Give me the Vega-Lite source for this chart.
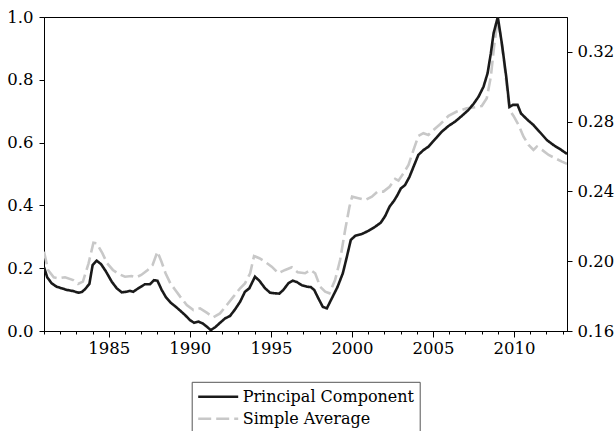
{
  "$schema": "https://vega.github.io/schema/vega-lite/v6.json",
  "width": 523,
  "height": 314,
  "autosize": {"type": "none"},
  "padding": {"left": 44, "top": 17, "right": 49, "bottom": 100},
  "background": "white",
  "config": {
    "font": "DejaVu Serif",
    "view": {"stroke": "black", "strokeWidth": 1},
    "axis": {
      "grid": false,
      "domainColor": "black",
      "domainWidth": 1,
      "tickColor": "black",
      "tickWidth": 1,
      "labelColor": "black",
      "labelFont": "DejaVu Serif",
      "labelFontSize": 16.5,
      "labelOverlap": false,
      "title": null
    },
    "legend": {"labelFont": "DejaVu Serif"}
  },
  "datasets": {
    "pc": [
      {"t": 1981.0, "v": 0.203}, {"t": 1981.2, "v": 0.171}, {"t": 1981.47, "v": 0.152}, {"t": 1981.78, "v": 0.141},
      {"t": 1982.09, "v": 0.136}, {"t": 1982.4, "v": 0.131}, {"t": 1982.81, "v": 0.127}, {"t": 1983.12, "v": 0.122},
      {"t": 1983.33, "v": 0.124}, {"t": 1983.53, "v": 0.133}, {"t": 1983.8, "v": 0.15}, {"t": 1984.0, "v": 0.21},
      {"t": 1984.25, "v": 0.224}, {"t": 1984.52, "v": 0.213}, {"t": 1984.83, "v": 0.189}, {"t": 1985.18, "v": 0.157},
      {"t": 1985.49, "v": 0.136}, {"t": 1985.8, "v": 0.123}, {"t": 1986.1, "v": 0.125}, {"t": 1986.31, "v": 0.128},
      {"t": 1986.51, "v": 0.125}, {"t": 1986.82, "v": 0.136}, {"t": 1987.23, "v": 0.149}, {"t": 1987.54, "v": 0.149},
      {"t": 1987.79, "v": 0.162}, {"t": 1988.0, "v": 0.16}, {"t": 1988.26, "v": 0.131}, {"t": 1988.53, "v": 0.107},
      {"t": 1988.82, "v": 0.09}, {"t": 1989.09, "v": 0.079}, {"t": 1989.4, "v": 0.065}, {"t": 1989.7, "v": 0.051},
      {"t": 1990.0, "v": 0.035}, {"t": 1990.26, "v": 0.026}, {"t": 1990.52, "v": 0.03}, {"t": 1990.8, "v": 0.024},
      {"t": 1991.04, "v": 0.014}, {"t": 1991.29, "v": 0.003}, {"t": 1991.56, "v": 0.012}, {"t": 1991.86, "v": 0.026},
      {"t": 1992.17, "v": 0.04}, {"t": 1992.48, "v": 0.048}, {"t": 1992.79, "v": 0.069}, {"t": 1993.1, "v": 0.093},
      {"t": 1993.4, "v": 0.125}, {"t": 1993.67, "v": 0.136}, {"t": 1993.82, "v": 0.152}, {"t": 1994.02, "v": 0.173},
      {"t": 1994.29, "v": 0.16}, {"t": 1994.64, "v": 0.136}, {"t": 1994.95, "v": 0.122}, {"t": 1995.26, "v": 0.12},
      {"t": 1995.52, "v": 0.119}, {"t": 1995.77, "v": 0.131}, {"t": 1996.08, "v": 0.152}, {"t": 1996.35, "v": 0.16},
      {"t": 1996.6, "v": 0.156}, {"t": 1996.9, "v": 0.146}, {"t": 1997.22, "v": 0.141}, {"t": 1997.46, "v": 0.14},
      {"t": 1997.67, "v": 0.131}, {"t": 1997.93, "v": 0.104}, {"t": 1998.2, "v": 0.077}, {"t": 1998.45, "v": 0.072},
      {"t": 1998.76, "v": 0.104}, {"t": 1999.1, "v": 0.139}, {"t": 1999.44, "v": 0.184}, {"t": 1999.69, "v": 0.237},
      {"t": 1999.93, "v": 0.29}, {"t": 2000.2, "v": 0.303}, {"t": 2000.61, "v": 0.309}, {"t": 2001.02, "v": 0.319},
      {"t": 2001.43, "v": 0.332}, {"t": 2001.78, "v": 0.345}, {"t": 2002.05, "v": 0.366}, {"t": 2002.32, "v": 0.396},
      {"t": 2002.6, "v": 0.415}, {"t": 2002.81, "v": 0.433}, {"t": 2003.02, "v": 0.454}, {"t": 2003.28, "v": 0.465},
      {"t": 2003.55, "v": 0.491}, {"t": 2003.8, "v": 0.523}, {"t": 2004.1, "v": 0.561}, {"t": 2004.41, "v": 0.576},
      {"t": 2004.72, "v": 0.587}, {"t": 2004.99, "v": 0.603}, {"t": 2005.24, "v": 0.617}, {"t": 2005.55, "v": 0.635},
      {"t": 2005.96, "v": 0.653}, {"t": 2006.37, "v": 0.667}, {"t": 2006.78, "v": 0.685}, {"t": 2007.19, "v": 0.704},
      {"t": 2007.5, "v": 0.723}, {"t": 2007.81, "v": 0.746}, {"t": 2008.12, "v": 0.778}, {"t": 2008.37, "v": 0.821},
      {"t": 2008.57, "v": 0.884}, {"t": 2008.74, "v": 0.948}, {"t": 2009.0, "v": 1.0}, {"t": 2009.25, "v": 0.916},
      {"t": 2009.52, "v": 0.81}, {"t": 2009.72, "v": 0.714}, {"t": 2009.93, "v": 0.72}, {"t": 2010.22, "v": 0.72},
      {"t": 2010.43, "v": 0.693}, {"t": 2010.8, "v": 0.674}, {"t": 2011.2, "v": 0.656}, {"t": 2011.62, "v": 0.632},
      {"t": 2012.03, "v": 0.608}, {"t": 2012.44, "v": 0.592}, {"t": 2012.85, "v": 0.579}, {"t": 2013.27, "v": 0.564}
    ],
    "sa": [
      {"t": 1981.0, "v": 0.2055}, {"t": 1981.25, "v": 0.195}, {"t": 1981.6, "v": 0.1908}, {"t": 1981.9, "v": 0.1902},
      {"t": 1982.3, "v": 0.1908}, {"t": 1982.8, "v": 0.1892}, {"t": 1983.1, "v": 0.187}, {"t": 1983.4, "v": 0.1883},
      {"t": 1983.75, "v": 0.1988}, {"t": 1984.05, "v": 0.2106}, {"t": 1984.25, "v": 0.2103}, {"t": 1984.6, "v": 0.2046},
      {"t": 1984.9, "v": 0.1988}, {"t": 1985.25, "v": 0.195}, {"t": 1985.6, "v": 0.1927}, {"t": 1986.0, "v": 0.1911},
      {"t": 1986.4, "v": 0.1915}, {"t": 1986.7, "v": 0.1908}, {"t": 1987.0, "v": 0.1921}, {"t": 1987.4, "v": 0.195},
      {"t": 1987.7, "v": 0.1978}, {"t": 1988.0, "v": 0.2055}, {"t": 1988.25, "v": 0.1997}, {"t": 1988.5, "v": 0.1931},
      {"t": 1988.8, "v": 0.1873}, {"t": 1989.1, "v": 0.1835}, {"t": 1989.4, "v": 0.1797}, {"t": 1989.81, "v": 0.1749},
      {"t": 1990.22, "v": 0.172}, {"t": 1990.63, "v": 0.173}, {"t": 1991.04, "v": 0.1705}, {"t": 1991.45, "v": 0.1679},
      {"t": 1991.86, "v": 0.1701}, {"t": 1992.28, "v": 0.1749}, {"t": 1992.69, "v": 0.1797}, {"t": 1993.1, "v": 0.1845},
      {"t": 1993.4, "v": 0.1873}, {"t": 1993.72, "v": 0.1931}, {"t": 1993.96, "v": 0.203}, {"t": 1994.29, "v": 0.2017},
      {"t": 1994.64, "v": 0.1997}, {"t": 1995.05, "v": 0.1969}, {"t": 1995.46, "v": 0.1931}, {"t": 1995.88, "v": 0.195},
      {"t": 1996.29, "v": 0.1965}, {"t": 1996.65, "v": 0.1937}, {"t": 1997.11, "v": 0.1931}, {"t": 1997.45, "v": 0.195},
      {"t": 1997.73, "v": 0.1931}, {"t": 1998.04, "v": 0.1854}, {"t": 1998.35, "v": 0.1825}, {"t": 1998.61, "v": 0.1816},
      {"t": 1998.96, "v": 0.1892}, {"t": 1999.27, "v": 0.2007}, {"t": 1999.58, "v": 0.2179}, {"t": 1999.85, "v": 0.2313},
      {"t": 2000.01, "v": 0.237}, {"t": 2000.4, "v": 0.2361}, {"t": 2000.82, "v": 0.2351}, {"t": 2001.23, "v": 0.237},
      {"t": 2001.58, "v": 0.2399}, {"t": 2001.94, "v": 0.2399}, {"t": 2002.32, "v": 0.2427}, {"t": 2002.67, "v": 0.2472},
      {"t": 2002.87, "v": 0.2462}, {"t": 2003.18, "v": 0.2504}, {"t": 2003.49, "v": 0.2552}, {"t": 2003.8, "v": 0.2638},
      {"t": 2004.1, "v": 0.2718}, {"t": 2004.41, "v": 0.2734}, {"t": 2004.72, "v": 0.2724}, {"t": 2005.03, "v": 0.2752},
      {"t": 2005.44, "v": 0.2785}, {"t": 2005.96, "v": 0.2833}, {"t": 2006.47, "v": 0.2858}, {"t": 2007.08, "v": 0.2877},
      {"t": 2007.6, "v": 0.2883}, {"t": 2008.01, "v": 0.289}, {"t": 2008.32, "v": 0.2934}, {"t": 2008.57, "v": 0.3058},
      {"t": 2008.77, "v": 0.323}, {"t": 2008.97, "v": 0.337}, {"t": 2009.15, "v": 0.3307}, {"t": 2009.35, "v": 0.3173},
      {"t": 2009.56, "v": 0.3001}, {"t": 2009.72, "v": 0.2867}, {"t": 2009.97, "v": 0.2833}, {"t": 2010.28, "v": 0.2781},
      {"t": 2010.59, "v": 0.2714}, {"t": 2010.9, "v": 0.2667}, {"t": 2011.2, "v": 0.2638}, {"t": 2011.41, "v": 0.2657},
      {"t": 2011.73, "v": 0.2638}, {"t": 2012.14, "v": 0.2609}, {"t": 2012.55, "v": 0.259}, {"t": 2012.96, "v": 0.2571},
      {"t": 2013.27, "v": 0.2558}
    ]
  },
  "layer": [
    {
      "data": {"name": "sa"},
      "mark": {"type": "line", "strokeWidth": 2.6, "clip": true},
      "encoding": {
        "x": {
          "field": "t", "type": "quantitative",
          "scale": {"domain": [1981, 2013.27], "nice": false, "zero": false},
          "axis": {
            "orient": "bottom",
            "values": [1985, 1990, 1995, 2000, 2005, 2010],
            "format": "d",
            "tickSize": 6,
            "labelPadding": 3,
            "domain": false,
            "labelFlush": false,
            "labelOverlap": false
          }
        },
        "y": {
          "field": "v", "type": "quantitative",
          "scale": {"domain": [0.16, 0.34], "nice": false, "zero": false},
          "axis": {"orient": "right", "values": [0.16, 0.2, 0.24, 0.28, 0.32], "format": ".2f", "tickSize": 5, "labelPadding": 5}
        },
        "color": {
          "datum": "Simple Average", "type": "nominal",
          "scale": {"domain": ["Principal Component", "Simple Average"], "range": ["#1a1a1a", "#c8c8c8"]},
          "legend": {
            "orient": "none", "legendX": 147.7, "legendY": 364.8, "title": null,
            "strokeColor": "#555555", "padding": 5, "labelFontSize": 16, "labelFont": "DejaVu Serif",
            "labelColor": "black", "symbolType": "stroke", "symbolSize": 1600, "symbolStrokeWidth": 2.6,
            "labelOffset": 3, "rowPadding": 2, "clipHeight": 20, "labelLimit": 400
          }
        },
        "strokeDash": {
          "datum": "Simple Average", "type": "nominal",
          "scale": {"domain": ["Principal Component", "Simple Average"], "range": [[1, 0], [13, 5]]},
          "legend": {
            "orient": "none", "legendX": 147.7, "legendY": 364.8, "title": null,
            "strokeColor": "#555555", "padding": 5, "labelFontSize": 16, "labelFont": "DejaVu Serif",
            "labelColor": "black", "symbolType": "stroke", "symbolSize": 1600, "symbolStrokeWidth": 2.6,
            "labelOffset": 3, "rowPadding": 2, "clipHeight": 20, "labelLimit": 400
          }
        }
      }
    },
    {
      "data": {"name": "pc"},
      "mark": {"type": "line", "strokeWidth": 2.6, "clip": true},
      "encoding": {
        "x": {
          "field": "t", "type": "quantitative",
          "scale": {"domain": [1981, 2013.27], "nice": false, "zero": false},
          "axis": {
            "orient": "bottom",
            "values": [1981,1982,1983,1984,1986,1987,1988,1989,1991,1992,1993,1994,1996,1997,1998,1999,2001,2002,2003,2004,2006,2007,2008,2009,2011,2012,2013],
            "labels": false,
            "tickSize": 3,
            "domain": true
          }
        },
        "y": {
          "field": "v", "type": "quantitative",
          "scale": {"domain": [0, 1], "nice": false},
          "axis": {"orient": "left", "values": [0, 0.2, 0.4, 0.6, 0.8, 1.0], "format": ".1f", "tickSize": 5, "labelPadding": 6}
        },
        "color": {"datum": "Principal Component", "type": "nominal"},
        "strokeDash": {"datum": "Principal Component", "type": "nominal"}
      }
    }
  ],
  "resolve": {"scale": {"y": "independent"}, "axis": {"x": "independent"}}
}
